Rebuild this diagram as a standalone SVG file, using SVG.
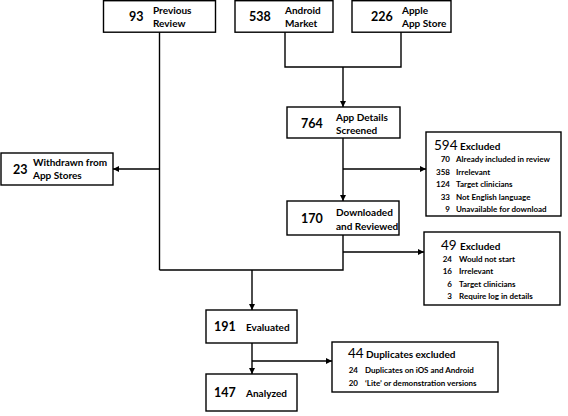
<svg xmlns="http://www.w3.org/2000/svg" width="568" height="416" viewBox="0 0 568 416">
<style>
.box{fill:#fff;stroke:#000;stroke-width:1.4}
.ln{fill:none;stroke:#000;stroke-width:1.4}
text{font-family:Lato,"Open Sans","Liberation Sans",sans-serif;font-weight:bold;fill:#000}
.n{font-size:12.5px}
.l{font-size:10px}
.h{font-size:13.5px;font-weight:normal}
.s{font-size:8px}
.e{text-anchor:end}
</style>
<defs>
<marker id="ar" markerWidth="6" markerHeight="6" refX="6" refY="3" orient="auto" markerUnits="userSpaceOnUse">
<path d="M0,0 L6,3 L0,6 Z" fill="#000"/>
</marker>
</defs>
<g id="connectors">
<path class="ln" d="M159.5,32 V270"/>
<path class="ln" d="M159.5,169 H113" marker-end="url(#ar)"/>
<path class="ln" d="M285,32 V67 H401 V32"/>
<path class="ln" d="M343,67 V107" marker-end="url(#ar)"/>
<path class="ln" d="M343,138 V201" marker-end="url(#ar)"/>
<path class="ln" d="M343,169 H426" marker-end="url(#ar)"/>
<path class="ln" d="M343,235 V270 H159.5"/>
<path class="ln" d="M343,252 H424" marker-end="url(#ar)"/>
<path class="ln" d="M252,270 V310" marker-end="url(#ar)"/>
<path class="ln" d="M252,343 V374" marker-end="url(#ar)"/>
<path class="ln" d="M252,361 H332" marker-end="url(#ar)"/>
</g>
<g id="previous">
<rect class="box" x="103.5" y="0.7" width="112" height="31.5"/>
<text class="n" x="129" y="21">93</text>
<text class="l" x="153" y="14">Previous</text>
<text class="l" x="153" y="27">Review</text>
</g>
<g id="android">
<rect class="box" x="235" y="0.7" width="98" height="31.5"/>
<text class="n" x="249" y="21">538</text>
<text class="l" x="285" y="14">Android</text>
<text class="l" x="285" y="27">Market</text>
</g>
<g id="apple">
<rect class="box" x="352" y="0.7" width="99" height="31.5"/>
<text class="n" x="371" y="21">226</text>
<text class="l" x="402" y="14">Apple</text>
<text class="l" x="402" y="27">App Store</text>
</g>
<g id="screened">
<rect class="box" x="287" y="107" width="113" height="31"/>
<text class="n" x="301" y="128">764</text>
<text class="l" x="336" y="121">App Details</text>
<text class="l" x="336" y="134">Screened</text>
</g>
<g id="withdrawn">
<rect class="box" x="1" y="153" width="112" height="32"/>
<text class="n" x="13" y="174">23</text>
<text class="l" x="33" y="166">Withdrawn from</text>
<text class="l" x="33" y="179">App Stores</text>
</g>
<g id="excluded1">
<rect class="box" x="426" y="132" width="135" height="84"/>
<text class="h" x="434" y="150">594</text>
<text class="l" x="460" y="150">Excluded</text>
<text class="s e" x="450" y="162">70</text><text class="s" x="456" y="162">Already included in review</text>
<text class="s e" x="450" y="174.5">358</text><text class="s" x="456" y="174.5">Irrelevant</text>
<text class="s e" x="450" y="187">124</text><text class="s" x="456" y="187">Target clinicians</text>
<text class="s e" x="450" y="199.5">33</text><text class="s" x="456" y="199.5">Not English language</text>
<text class="s e" x="450" y="212">9</text><text class="s" x="456" y="212">Unavailable for download</text>
</g>
<g id="downloaded">
<rect class="box" x="287" y="201" width="112" height="34"/>
<text class="n" x="301" y="223">170</text>
<text class="l" x="336" y="216">Downloaded</text>
<text class="l" x="336" y="230">and Reviewed</text>
</g>
<g id="excluded2">
<rect class="box" x="424" y="232" width="136" height="73"/>
<text class="h" x="441" y="250">49</text>
<text class="l" x="460" y="250">Excluded</text>
<text class="s e" x="452" y="262">24</text><text class="s" x="459" y="262">Would not start</text>
<text class="s e" x="452" y="274">16</text><text class="s" x="459" y="274">Irrelevant</text>
<text class="s e" x="452" y="286.5">6</text><text class="s" x="459" y="286.5">Target clinicians</text>
<text class="s e" x="452" y="299">3</text><text class="s" x="459" y="299">Require log in details</text>
</g>
<g id="evaluated">
<rect class="box" x="206" y="310" width="91" height="33"/>
<text class="n" x="214" y="331">191</text>
<text class="l" x="246" y="331">Evaluated</text>
</g>
<g id="duplicates">
<rect class="box" x="332" y="342" width="166" height="50"/>
<text class="h" x="348" y="358">44</text>
<text class="l" x="366" y="358">Duplicates excluded</text>
<text class="s e" x="358" y="373">24</text><text class="s" x="365" y="373">Duplicates on iOS and Android</text>
<text class="s e" x="358" y="386">20</text><text class="s" x="365" y="386">‘Lite’ or demonstration versions</text>
</g>
<g id="analyzed">
<rect class="box" x="206" y="374" width="91" height="37"/>
<text class="n" x="214" y="397">147</text>
<text class="l" x="246" y="397">Analyzed</text>
</g>
</svg>
